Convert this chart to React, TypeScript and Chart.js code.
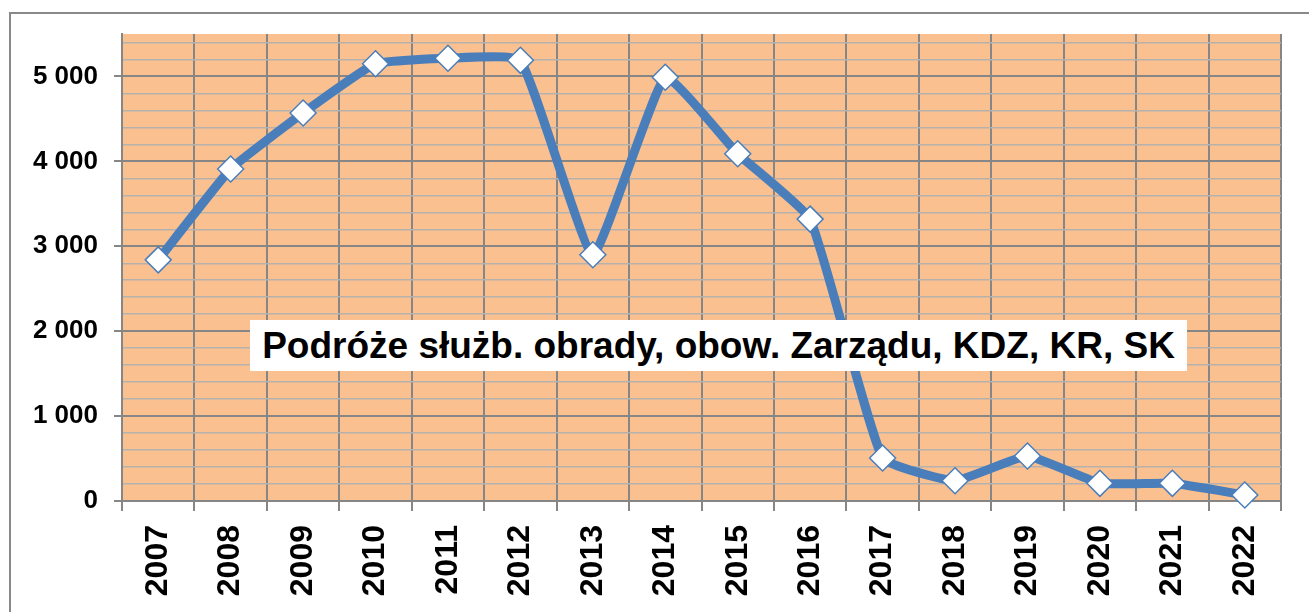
import React, { useEffect, useRef } from "react";
import { Chart, registerables } from "chart.js";

Chart.register(...registerables);

const years = ["2007", "2008", "2009", "2010", "2011", "2012", "2013", "2014", "2015", "2016", "2017", "2018", "2019", "2020", "2021", "2022"];
const values = [2840, 3910, 4570, 5150, 5215, 5190, 2900, 4990, 4090, 3320, 507, 239, 530, 208, 208, 71];
const yMax = 5500;
const yMinorStep = 200;
const yMajorStep = 1000;
const titleText = "Podróże służb. obrady, obow. Zarządu, KDZ, KR, SK";

const FONT = '"Liberation Sans", Arial, sans-serif';
const MAJOR = "#868686";
const MINOR = "#b5b2ad";
const PLOT_BG = "#FAC090";
const LINE = "#4A7EBB";

const fmt = (v: number) => String(v).replace(/\B(?=(\d{3})+(?!\d))/g, " ");

const bgPlugin = {
  id: "plotBg",
  beforeDraw(chart: any) {
    const { ctx, chartArea } = chart;
    ctx.save();
    ctx.fillStyle = PLOT_BG;
    ctx.fillRect(chartArea.left, chartArea.top, chartArea.right - chartArea.left, chartArea.bottom - chartArea.top);
    ctx.restore();
  },
};

export default function App() {
  const ref = useRef<HTMLCanvasElement | null>(null);

  useEffect(() => {
    if (!ref.current) return;
    const chart = new Chart(ref.current, {
      type: "line",
      data: {
        labels: years,
        datasets: [
          {
            data: values,
            borderColor: LINE,
            borderWidth: 9,
            tension: 0.12,
            pointStyle: "rectRot",
            pointRadius: 13,
            pointHoverRadius: 13,
            pointBackgroundColor: "#ffffff",
            pointBorderColor: LINE,
            pointBorderWidth: 1.5,
            clip: false as any,
          },
        ],
      },
      options: {
        responsive: false,
        animation: false,
        events: [],
        layout: { padding: { left: 0, top: 34, right: 28, bottom: 0 } },
        plugins: { legend: { display: false }, title: { display: false }, tooltip: { enabled: false } },
        scales: {
          x: {
            type: "category",
            offset: true,
            grid: {
              offset: true,
              color: MAJOR,
              lineWidth: 2,
              tickLength: 10,
              tickColor: MAJOR,
            },
            border: { display: true, color: MAJOR, width: 2 },
            ticks: {
              autoSkip: false,
              minRotation: 90,
              maxRotation: 90,
              padding: 14,
              color: "#000",
              font: { family: FONT, weight: "bold", size: 32 },
            },
            afterFit: (s: any) => {
              s.height = 111;
              s.paddingLeft = 0;
              s.paddingRight = 0;
            },
          },
          y: {
            type: "linear",
            min: 0,
            max: yMax,
            grid: {
              color: (c: any) => (c.tick && c.tick.value % yMajorStep === 0 ? MAJOR : MINOR),
              lineWidth: (c: any) => (c.tick && c.tick.value % yMajorStep === 0 ? 2 : 1.5),
              tickLength: 8,
              tickColor: (c: any) => (c.tick && c.tick.value % yMajorStep === 0 ? MAJOR : "rgba(0,0,0,0)"),
            },
            border: { display: true, color: MAJOR, width: 2 },
            ticks: {
              stepSize: yMinorStep,
              autoSkip: false,
              includeBounds: false,
              padding: 16,
              color: "#000",
              font: { family: FONT, weight: "bold", size: 26 },
              callback: (v: any) => (Number(v) % yMajorStep === 0 ? fmt(Number(v)) : ""),
            },
            afterFit: (s: any) => {
              s.width = 122;
              s.paddingTop = 0;
              s.paddingBottom = 0;
            },
          },
        },
      } as any,
      plugins: [bgPlugin],
    });
    return () => chart.destroy();
  }, []);

  return (
    <div style={{ position: "fixed", left: 0, top: 0, width: 1309, height: 612, overflow: "hidden", background: "#fff" }}>
      <div
        style={{
          position: "absolute",
          left: 9,
          top: 12,
          width: 1400,
          height: 700,
          border: "2px solid #898989",
          boxSizing: "border-box",
        }}
      />
      <canvas ref={ref} width={1309} height={612} style={{ position: "absolute", left: 0, top: 0, display: "block" }} />
      <div
        style={{
          position: "absolute",
          left: 250,
          top: 320,
          width: 937,
          height: 51,
          background: "#fff",
          fontFamily: FONT,
          fontWeight: "bold",
          fontSize: 37,
          lineHeight: "51px",
          textAlign: "center",
          color: "#000",
          whiteSpace: "nowrap",
        }}
      >
        {titleText}
      </div>
    </div>
  );
}
